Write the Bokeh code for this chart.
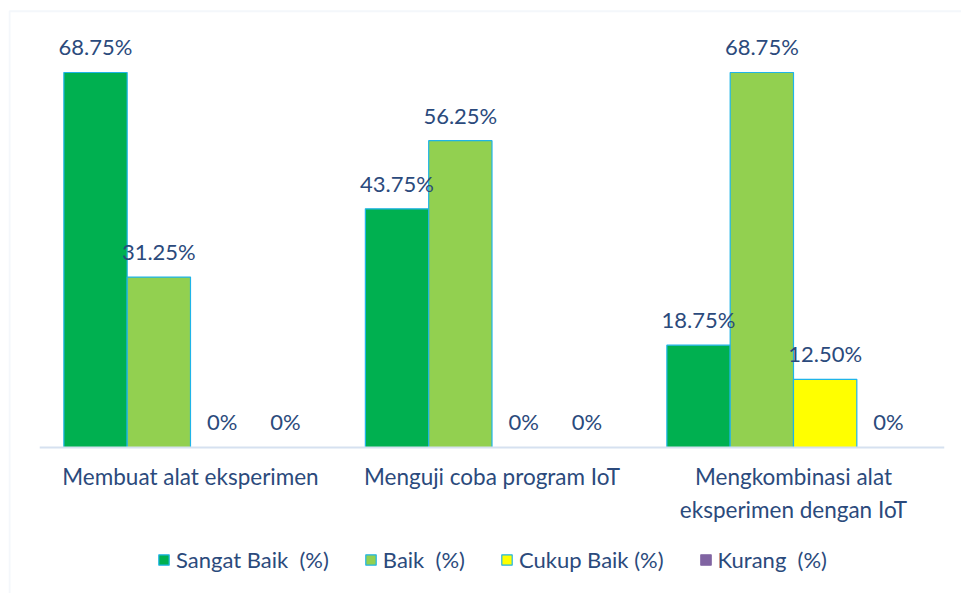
from bokeh.plotting import figure
from bokeh.models import (ColumnDataSource, LabelSet, Legend, LegendItem,
                          Range1d, BoxAnnotation)
from bokeh.core.properties import value
from bokeh.transform import dodge
from bokeh.embed import file_html
from bokeh.resources import INLINE

categories = ["Membuat alat eksperimen", "Menguji coba program IoT",
              "Mengkombinasi alat eksperimen dengan IoT"]
category_labels = ["Membuat alat eksperimen", "Menguji coba program IoT",
                   "Mengkombinasi alat\neksperimen dengan IoT"]
series_names = ["Sangat Baik  (%)", "Baik  (%)", "Cukup Baik (%)", "Kurang  (%)"]
sangat_baik = [68.75, 43.75, 18.75]
baik = [31.25, 56.25, 68.75]
cukup_baik = [0, 0, 12.50]
kurang = [0, 0, 0]
series_values = [sangat_baik, baik, cukup_baik, kurang]
colors = ["#00B050", "#92D050", "#FFFF00", "#8064A2"]
outline_colors = ["#1FB4E8", "#1FB4E8", "#1FB4E8", "#8064A2"]
offsets = [-0.315, -0.105, 0.105, 0.315]

FONT = "Lato"
TXT = "#2B4A7C"
LABEL_Y = -2.9
cat_pos = list(range(len(categories)))

p = figure(x_range=Range1d(-0.6036, 2.5572), y_range=Range1d(-26.77, 81.95),
           width=961, height=593, output_backend="svg", toolbar_location=None,
           x_axis_location=None, y_axis_location=None,
           min_border_left=8, min_border_right=0, min_border_top=0, min_border_bottom=0)
p.outline_line_color = None
p.xgrid.visible = False
p.ygrid.visible = False

# chart-area border (top and left edges visible)
p.add_layout(BoxAnnotation(left=-0.6, top=80, right=5, bottom=-100, fill_color=None,
                           line_color="#DCE6F2", line_width=2, level="underlay"))

items = []
for name, vals, col, oc, off in zip(series_names, series_values, colors, outline_colors, offsets):
    src = ColumnDataSource(dict(x=cat_pos, val=vals,
                                lab=["0%" if v == 0 else f"{v:.2f}%" for v in vals]))
    r = p.vbar(x=dodge("x", off), top="val", width=0.21, source=src,
               fill_color=col, line_color=oc, line_width=1.2)
    items.append(LegendItem(label=name, renderers=[r]))
    lbl = LabelSet(x=dodge("x", off), y="val", text="lab", source=src,
                   text_align="center", text_baseline="bottom", y_offset=12,
                   text_font=value(FONT), text_font_size="22px", text_color=TXT)
    p.add_layout(lbl)

# category axis baseline (spans the category bands) and labels
p.segment(x0=[cat_pos[0] - 0.5], x1=[cat_pos[-1] + 0.5], y0=[0], y1=[0],
          line_color="#D6E1F0", line_width=2)
cat_src = ColumnDataSource(dict(x=cat_pos, lab=category_labels,
                                y=[LABEL_Y] * len(categories)))
p.text(x="x", y="y", text="lab", source=cat_src, text_align="center",
       text_baseline="top", text_font=value(FONT), text_font_size="22.5px",
       text_color=TXT, text_line_height=1.2)

legend = Legend(items=items, orientation="horizontal", location=(149, 20),
                label_text_font=FONT, label_text_font_size="22px", label_text_color=TXT,
                glyph_width=13, glyph_height=13, spacing=35, label_standoff=6,
                border_line_color=None, background_fill_alpha=0, padding=0, margin=0)
p.add_layout(legend, "center")

open("out.html", "w").write(file_html(p, INLINE))
